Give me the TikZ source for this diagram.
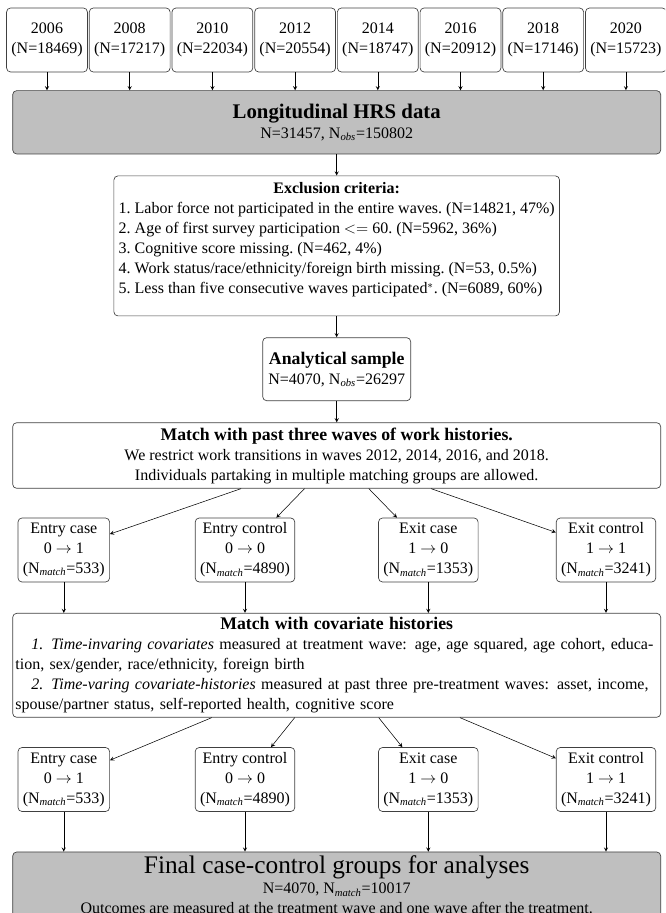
\documentclass[tikz,border=0pt]{standalone}
\usepackage{fontspec}
\setmainfont{Liberation Serif}

\tikzset{
  box/.style={draw=black!75, line width=0.5pt, rounded corners=3pt, align=center,
    font=\fontsize{12}{15}\selectfont, inner xsep=3.6pt, inner ysep=3pt},
  yearbox/.style={box, minimum height=48pt},
  casebox/.style={box, minimum height=48pt},
  widebox/.style={box, minimum width=486pt},
  greybox/.style={widebox, fill=gray!50},
}
\newcommand{\ttl}{\fontsize{13.3}{16}\selectfont\bfseries}

\begin{document}
\begin{tikzpicture}[x=0.75pt,y=-0.75pt,>=stealth,line width=0.4pt]
  \clip[use as bounding box] (0,0) rectangle (665,913);
  % waves
  \foreach \yr/\nn [count=\i from 0] in {2006/18469,2008/17217,2010/22034,2012/20554,2014/18747,2016/20912,2018/17146,2020/15723}
    \node[yearbox] (y\yr) at ({47+82.7*\i},40) {\yr\\(N=\nn)};
  \node[greybox, minimum height=47.5pt] (hrs) at (336.7,122.3)
    {{\fontsize{15.6}{18}\selectfont\bfseries Longitudinal HRS data}\\N=31457, N\textsubscript{\textit{obs}}=150802};
  \foreach \yr in {2006,2008,...,2020}
    \draw[->] (y\yr) -- (y\yr |- hrs.north);
  % exclusion and sample
  \node[box, minimum width=334pt, minimum height=104.8pt] (excl) at (336.7,245.9)
    {\frenchspacing\begin{tabular}{@{}l@{}}
     \multicolumn{1}{c}{\textbf{Exclusion criteria:}}\\
     1. Labor force not participated in the entire waves. (N=14821, 47\%)\\
     2. Age of first survey participation $<=$ 60. (N=5962, 36\%)\\
     3. Cognitive score missing. (N=462, 4\%)\\
     4. Work status/race/ethnicity/foreign birth missing. (N=53, 0.5\%)\\
     5. Less than five consecutive waves participated$^{*}$. (N=6089, 60\%)\\[9pt]
     \end{tabular}};
  \node[box, minimum width=111pt, minimum height=47.3pt] (anal) at (336.7,369.2)
    {{\ttl Analytical sample}\\N=4070, N\textsubscript{\textit{obs}}=26297};
  \node[widebox, minimum height=49.2pt] (match) at (336.7,455.5)
    {{\ttl Match with past three waves of work histories.}\\
     We restrict work transitions in waves 2012, 2014, 2016, and 2018.\\
     Individuals partaking in multiple matching groups are allowed.};
  \draw[->] (hrs) -- (excl);
  \draw[->] (excl) -- (anal);
  \draw[->] (anal) -- (match);
  % covariates
  \node[widebox, text width=482pt, inner xsep=2pt, align=left, minimum height=78pt] (cov) at (336.7,665.3)
    {\centerline{\ttl Match with covariate histories}
     \makebox[\linewidth][s]{\hspace*{1em}\textit{1. Time-invaring covariates} measured at treatment wave: age, age squared, age cohort, educa-}\\
     tion, sex/gender, race/ethnicity, foreign birth\\
     \makebox[\linewidth][s]{\hspace*{1em}\textit{2. Time-varing covariate-histories} measured at past three pre-treatment waves: asset, income,}\\
     spouse/partner status, self-reported health, cognitive score};
  \node[greybox, minimum height=49.5pt] (final) at (336.7,885)
    {{\fontsize{19}{22}\selectfont Final case-control groups for analyses}\\
     N=4070, N\textsubscript{\textit{match}}=10017\\
     Outcomes are measured at the treatment wave and one wave after the treatment.};
  % case and control groups
  \foreach \k/\xx/\lab/\src/\dst/\nm in {a/63.8/Entry case/0/1/533,b/245/Entry control/0/0/4890,c/428.3/Exit case/1/0/1353,d/606/Exit control/1/1/3241}{
    \node[casebox] (m\k) at (\xx,550) {\lab\\\src\ $\rightarrow$ \dst\\(N\textsubscript{\textit{match}}=\nm)};
    \node[casebox] (f\k) at (\xx,779.5) {\lab\\\src\ $\rightarrow$ \dst\\(N\textsubscript{\textit{match}}=\nm)};
    \draw[->] (match) -- (m\k);
    \draw[->] (m\k) -- (m\k |- cov.north);
    \draw[->] (cov) -- (f\k);
    \draw[->] (f\k) -- (f\k |- final.north);
  }
\end{tikzpicture}
\end{document}
